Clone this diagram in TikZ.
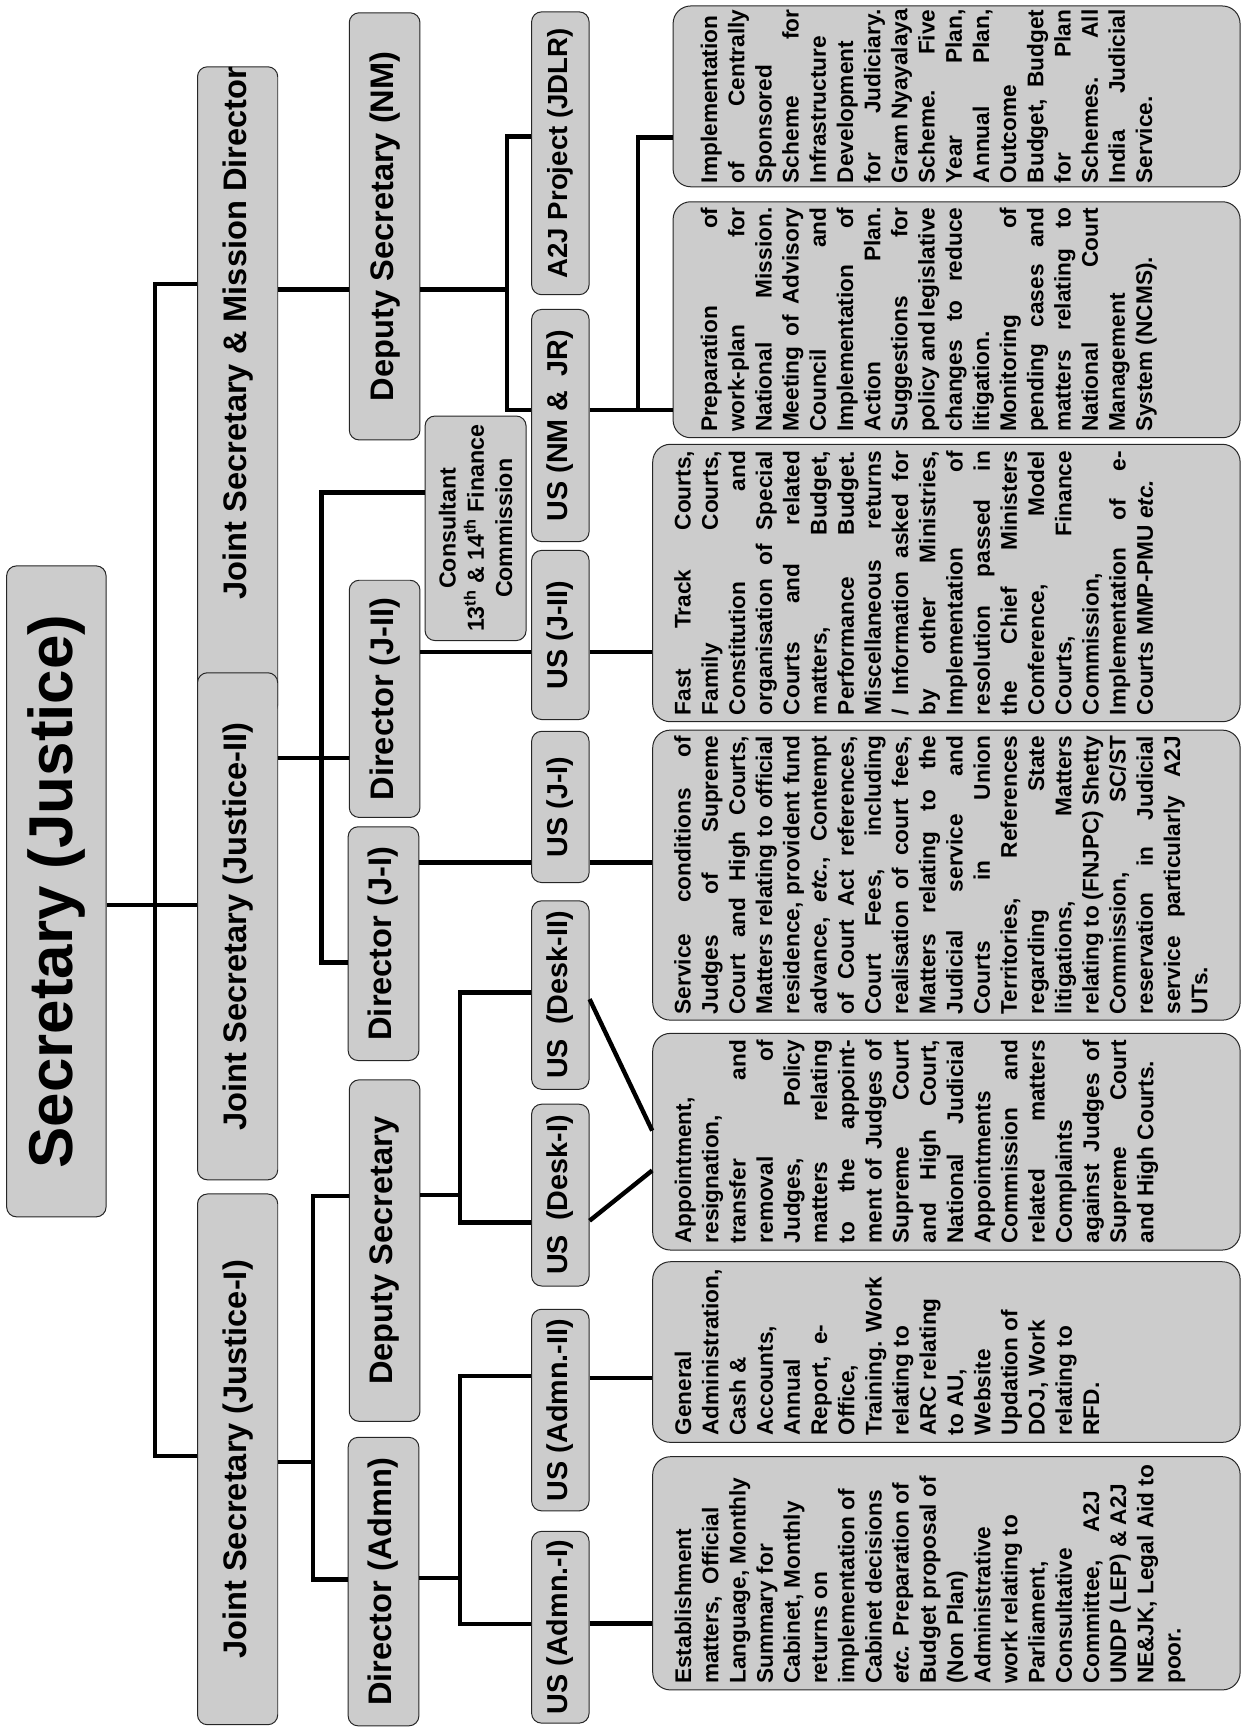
\documentclass[tikz,border=0pt]{standalone}
\usepackage{fontspec}
\setmainfont{Liberation Sans}
\usetikzlibrary{positioning}
\definecolor{boxgray}{HTML}{CCCCCC}
\tikzset{%
box/.style={draw=black!85, line width=0.9pt, fill=boxgray, rotate=90, inner sep=0pt, rounded corners=9pt},
headbox/.style={box, font=\fontsize{29.5}{34}\selectfont\bfseries},
usbox/.style={box, font=\fontsize{26}{30}\selectfont\bfseries, minimum height=52},
txtbox/.style={box, rounded corners=16pt, font=\fontsize{20.5}{24.6}\selectfont\bfseries},
link/.style={draw=black, line width=4pt}
}
\newcommand{\jl}[1]{\makebox[\linewidth][s]{#1}\\}

\begin{document}
\begin{tikzpicture}[x=1pt,y=-1pt]
		\useasboundingbox (0,0) rectangle (1123,1568);

		\node[headbox, font=\fontsize{56}{60}\selectfont\bfseries, minimum width=589, minimum height=90] (secr) at (51,806.5) {Secretary (Justice)};
		\node[headbox, minimum width=585.3, minimum height=72.6] (jsMD) at (215,353.4) {\hspace*{104pt}Joint Secretary \& Mission Director};
		\node[headbox, minimum width=458.8, minimum height=72.6] (jsII) at (215,838.1) {Joint Secretary (Justice-II)};
		\node[headbox, minimum width=480.2, minimum height=72.6] (jsI) at (215,1320.4) {Joint Secretary (Justice-I)};

		\node[headbox, minimum width=386.5, minimum height=64] (dsNM) at (348,204.8) {Deputy Secretary (NM)};
		\node[headbox, minimum width=214.6, minimum height=64] (dirJII) at (348,632.3) {Director (J-II)};
		\node[headbox, minimum width=211.5, minimum height=64] (dirJI) at (347,853.8) {Director (J-I)};
		\node[headbox, minimum width=309, minimum height=64] (dsec) at (348,1131.5) {Deputy Secretary};
		\node[headbox, minimum width=261, minimum height=64] (dirAd) at (347,1431) {Director (Admn)};
		\node[box, font=\fontsize{21}{25.5}\selectfont\bfseries, align=center, minimum width=203.2, minimum height=91.4] (cons) at (430.3,478) {Consultant\\13\textsuperscript{th} \& 14\textsuperscript{th} Finance\\Commission};

		\node[usbox, font=\fontsize{25}{30}\selectfont\bfseries, minimum width=255.9] (a2j) at (507,138.7) {A2J Project (JDLR)};
		\node[usbox, minimum width=210] (usNM) at (507,385) {US (NM \&\enspace JR)};
		\node[usbox, minimum width=153] (usJII) at (507,574.5) {US (J-II)};
		\node[usbox, minimum width=136.8] (usJI) at (507,730.1) {US (J-I)};
		\node[usbox, minimum width=170.5] (usD2) at (507,900.3) {US\enspace(Desk-II)};
		\node[usbox, minimum width=164.5] (usD1) at (507,1081.3) {US\enspace(Desk-I)};
		\node[usbox, minimum width=182.4] (usA2) at (507,1275.8) {US (Admn.-II)};
		\node[usbox, minimum width=173.5] (usA1) at (507,1472.3) {US (Admn.-I)};

		\node[txtbox, minimum width=163.6, minimum height=513] (txtA) at (865.5,87.2) {\parbox[c][463pt][t]{157pt}{%
			Implementation\\
			\jl{of Centrally}
			Sponsored\\
			\jl{Scheme for}
			Infrastructure\\
			Development\\
			\jl{for Judiciary.}
			\jl{Gram Nyayalaya}
			\jl{Scheme. Five}
			\jl{Year Plan,}
			\jl{Annual Plan,}
			Outcome\\
			\jl{Budget, Budget}
			\jl{for Plan}
			\jl{Schemes. All}
			\jl{India Judicial}
			Service.}};
		\node[txtbox, minimum width=213.5, minimum height=513] (txtB) at (865.5,289.3) {\parbox[c][463pt][t]{203pt}{%
			\jl{Preparation of}
			\jl{work-plan for}
			\jl{National Mission.}
			\jl{Meeting of Advisory}
			\jl{Council and}
			\jl{Implementation of}
			\jl{Action Plan.}
			\jl{Suggestions for}
			\jl{policy and legislative}
			\jl{changes to reduce}
			litigation.\\
			\jl{Monitoring of}
			\jl{pending cases and}
			\jl{matters relating to}
			\jl{National Court}
			Management\\
			System (NCMS).}};
		\node[txtbox, minimum width=251, minimum height=531.5] (txtC) at (856.3,527.5) {\parbox[c][492.5pt][t]{239pt}{%
			\jl{Fast Track Courts,}
			\jl{Family Courts,}
			\jl{Constitution and}
			\jl{organisation of Special}
			\jl{Courts and related}
			\jl{matters, Budget,}
			\jl{Performance Budget.}
			\jl{Miscellaneous returns}
			\jl{/ Information asked for}
			\jl{by other Ministries,}
			\jl{Implementation of}
			\jl{resolution passed in}
			\jl{the Chief Ministers}
			\jl{Conference, Model}
			\jl{Courts, Finance}
			Commission,\\
			\jl{Implementation of e-}
			Courts MMP-PMU \textit{etc.}}};
		\node[txtbox, minimum width=262.4, minimum height=531.5] (txtD) at (856.3,791.8) {\parbox[c][492.5pt][t]{252pt}{%
			\jl{Service conditions of}
			\jl{Judges of Supreme}
			\jl{Court and High Courts,}
			\jl{Matters relating to official}
			\jl{residence, provident fund}
			\jl{advance, \textit{etc.}, Contempt}
			\jl{of Court Act references,}
			\jl{Court Fees, including}
			\jl{realisation of court fees,}
			\jl{Matters relating to the}
			\jl{Judicial service and}
			\jl{Courts in Union}
			\jl{Territories, References}
			\jl{regarding State}
			\jl{litigations, Matters}
			\jl{relating to (FNJPC) Shetty}
			\jl{Commission, SC/ST}
			\jl{reservation in Judicial}
			\jl{service particularly A2J}
			UTs.}};
		\node[txtbox, minimum width=196, minimum height=531.5] (txtE) at (856.3,1033) {\parbox[c][491.5pt][t]{184pt}{%
			Appointment,\\
			resignation,\\
			\jl{transfer and}
			\jl{removal of}
			\jl{Judges, Policy}
			\jl{matters relating}
			\jl{to the appoint-}
			\jl{ment of Judges of}
			\jl{Supreme Court}
			\jl{and High Court,}
			\jl{National Judicial}
			Appointments\\
			\jl{Commission and}
			\jl{related matters}
			Complaints\\
			\jl{against Judges of}
			\jl{Supreme Court}
			and High Courts.}};
		\node[txtbox, minimum width=163.4, minimum height=531.5] (txtF) at (856.3,1223.3) {\parbox[c][491.5pt][t]{151pt}{%
			General\\
			Administration,\\
			Cash \&\\
			Accounts,\\
			Annual\\
			Report,\enspace e-\\
			Office,\\
			Training. Work\\
			relating to\\
			ARC relating\\
			to AU,\\
			Website\\
			Updation of\\
			DOJ, Work\\
			relating to\\
			RFD.}};
		\node[txtbox, minimum width=211, minimum height=531.5] (txtG) at (856.3,1423.5) {\parbox[c][491.5pt][t]{200pt}{%
			Establishment\\
			matters,\enspace Official\\
			Language, Monthly\\
			Summary for\\
			Cabinet, Monthly\\
			returns on\\
			implementation of\\
			Cabinet decisions\\
			\textit{etc.} Preparation of\\
			Budget proposal of\\
			(Non Plan)\\
			Administrative\\
			work relating to\\
			Parliament,\\
			Consultative\\
			Committee,\hspace{20pt} A2J\\
			UNDP (LEP) \& A2J\\
			NE\&JK, Legal Aid to\\
			poor.}};

		\coordinate (j0) at (140,818.6);
		\coordinate (j1) at (140,257);
		\coordinate (j2) at (140,1317.5);
		\coordinate (j3) at (283,262);
		\coordinate (j4) at (458.5,262);
		\coordinate (j5) at (458.5,123.5);
		\coordinate (j6) at (458.5,371);
		\coordinate (j7) at (577,371);
		\coordinate (j8) at (577,124.5);
		\coordinate (j9) at (291,686);
		\coordinate (j10) at (291,445.5);
		\coordinate (j11) at (291,871);
		\coordinate (j12) at (430,589.7);
		\coordinate (j13) at (430,780.5);
		\coordinate (j14) at (416,1081);
		\coordinate (j15) at (416,898);
		\coordinate (j16) at (416,1106);
		\coordinate (j17) at (560,904);
		\coordinate (j18) at (560,1023);
		\coordinate (j19) at (560,1104.5);
		\coordinate (j20) at (560,1059);
		\coordinate (j21) at (283.4,1322.6);
		\coordinate (j22) at (283.4,1082);
		\coordinate (j23) at (283.4,1429);
		\coordinate (j24) at (416,1427.6);
		\coordinate (j25) at (416,1245);
		\coordinate (j26) at (416,1469.6);
		\coordinate (j27) at (560,1247);
		\coordinate (j28) at (560,1469);

		\draw[link] (secr.south |- j0) -- (jsII.north |- j0);
		\draw[link] (jsMD.north |- j1) -| (j2) -- (jsI.north |- j2);
		\draw[link] (jsMD.south |- j3) -- (dsNM.north |- j3);
		\draw[link] (dsNM.south |- j4) -- (j4);
		\draw[link] (a2j.north |- j5) -| (j6) -- (usNM.north |- j6);
		\draw[link] (usNM.south |- j7) -- (txtB.north |- j7);
		\draw[link] (j7) -- (j8) -- (txtA.north |- j8);
		\draw[link] (jsII.south |- j9) -- (dirJII.north |- j9);
		\draw[link] (cons.north |- j10) -| (j11) -- (dirJI.north |- j11);
		\draw[link] (dirJII.south |- j12) -- (usJII.north |- j12);
		\draw[link] (usJII.south |- j12) -- (txtC.north |- j12);
		\draw[link] (dirJI.south |- j13) -- (usJI.north |- j13);
		\draw[link] (usJI.south |- j13) -- (txtD.north |- j13);
		\draw[link] (dsec.south |- j14) -- (j14);
		\draw[link] (usD2.north |- j15) -| (j16) -- (usD1.north |- j16);
		\draw[link] (usD2.south |- j17) -- (txtE.north |- j18);
		\draw[link] (usD1.south |- j19) -- (txtE.north |- j20);
		\draw[link] (jsI.south |- j21) -- (j21);
		\draw[link] (dsec.north |- j22) -| (j23) -- (dirAd.north |- j23);
		\draw[link] (dirAd.south |- j24) -- (j24);
		\draw[link] (usA2.north |- j25) -| (j26) -- (usA1.north |- j26);
		\draw[link] (usA2.south |- j27) -- (txtF.north |- j27);
		\draw[link] (usA1.south |- j28) -- (txtG.north |- j28);
\end{tikzpicture}
\end{document}
